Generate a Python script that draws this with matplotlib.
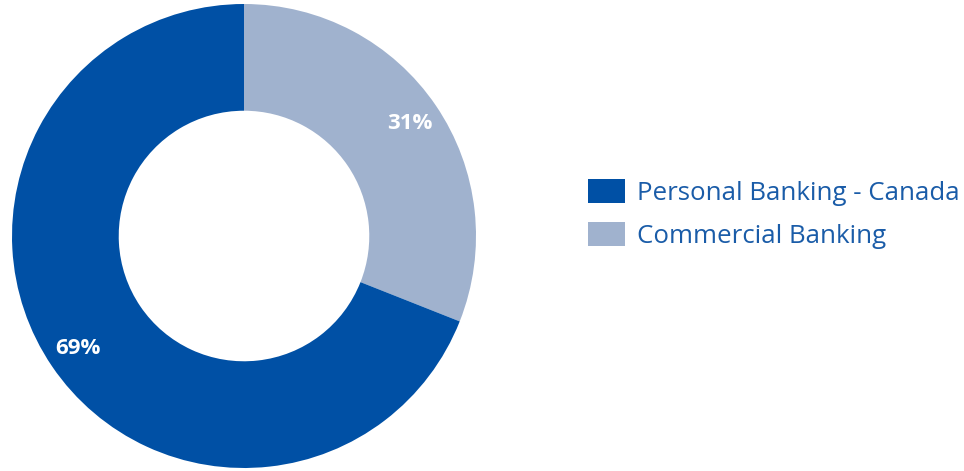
import matplotlib
matplotlib.use("Agg")
import matplotlib.pyplot as plt
from matplotlib.patches import Patch

categories = ["Commercial Banking", "Personal Banking - Canada"]
values = [31, 69]
legend_order = ["Personal Banking - Canada", "Commercial Banking"]
colors = {"Personal Banking - Canada": "#0050A5", "Commercial Banking": "#A0B2CE"}

plt.rcParams['font.family'] = ['Open Sans', 'DejaVu Sans']

fig = plt.figure(figsize=(9.64, 4.71), dpi=100)
ax = fig.add_axes([12/964, 3/471, 464/964, 464/471])
wedges, texts, autotexts = ax.pie(
    values, colors=[colors[c] for c in categories], startangle=90, counterclock=False,
    radius=1, wedgeprops=dict(width=0.46, edgecolor='none'),
    autopct=lambda p: f"{p:.0f}%", pctdistance=0.865,
    textprops=dict(color='white', fontsize=16, fontweight='bold'))
ax.set_xlim(-1, 1)
ax.set_ylim(-1, 1)
ax.set_aspect('equal')
ax.axis('off')

handles = [Patch(facecolor=colors[c], edgecolor='none') for c in legend_order]
leg = fig.legend(handles, legend_order, loc='center left', bbox_to_anchor=(588/964, 1 - 214/471),
                 frameon=False, fontsize=18.6, handlelength=1.43, handleheight=1.05,
                 handletextpad=0.46, labelspacing=0.62, borderpad=0, borderaxespad=0)
for t in leg.get_texts():
    t.set_color('#1A5CA8')

fig.savefig("out.png", dpi=100)
